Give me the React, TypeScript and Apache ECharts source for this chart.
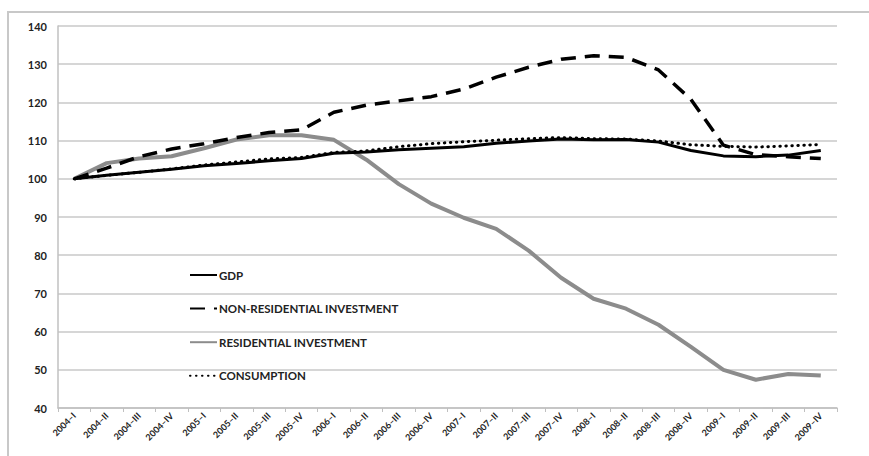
import React, { useEffect, useRef } from "react";
import * as echarts from "echarts";

const categories = [
  "2004–I", "2004–II", "2004–III", "2004–IV",
  "2005–I", "2005–II", "2005–III", "2005–IV",
  "2006–I", "2006–II", "2006–III", "2006–IV",
  "2007–I", "2007–II", "2007–III", "2007–IV",
  "2008–I", "2008–II", "2008–III", "2008–IV",
  "2009–I", "2009–II", "2009–III", "2009–IV",
];

const gdp = [100, 100.9, 101.7, 102.5, 103.4, 104.0, 104.7, 105.3, 106.7, 107.0, 107.6, 108.0, 108.4, 109.3, 109.9, 110.4, 110.2, 110.3, 109.6, 107.4, 106.0, 105.8, 106.2, 107.4];
const nonResidential = [100, 102.8, 105.8, 107.8, 109.2, 110.8, 112.1, 112.8, 117.4, 119.3, 120.4, 121.5, 123.5, 126.6, 129.2, 131.3, 132.2, 131.8, 128.5, 120.8, 108.8, 106.3, 105.8, 105.3];
const residential = [100, 104.1, 105.3, 105.9, 108.0, 110.3, 111.4, 111.4, 110.2, 105.0, 98.6, 93.5, 89.8, 86.9, 81.2, 74.1, 68.6, 66.0, 61.8, 56.0, 50.0, 47.4, 48.9, 48.5];
const consumption = [100, 100.9, 101.7, 102.6, 103.6, 104.4, 105.2, 105.6, 106.9, 107.3, 108.4, 109.2, 109.7, 110.1, 110.5, 110.8, 110.5, 110.4, 109.9, 108.9, 108.5, 108.3, 108.6, 109.0];

const legendNames = ["GDP", "NON-RESIDENTIAL INVESTMENT", "RESIDENTIAL INVESTMENT", "CONSUMPTION"];

const yMin = 40;
const yMax = 140;
const yInterval = 10;

const FONT = "Lato, 'Open Sans', sans-serif";

export default function App() {
  const ref = useRef<HTMLDivElement>(null);
  useEffect(() => {
    if (!ref.current) return;
    const chart = echarts.init(ref.current, null, { renderer: "svg" });
    chart.setOption({
      animation: false,
      backgroundColor: "#ffffff",
      textStyle: { fontFamily: FONT },
      graphic: [
        {
          type: "rect",
          shape: { x: 8, y: 12, width: 900, height: 500 },
          style: { fill: "none", stroke: "#c8c8c8", lineWidth: 2 },
          silent: true,
        },
      ],
      grid: { left: 58, right: 32, top: 26, bottom: 48, containLabel: false, outerBoundsMode: "none" },
      legend: {
        orient: "vertical",
        left: 189,
        top: 269,
        padding: 0,
        itemWidth: 27,
        itemHeight: 14,
        itemGap: 21.6,
        itemStyle: { opacity: 0 },
        textStyle: { fontFamily: FONT, fontWeight: "bold", fontSize: 11.5, color: "#222", padding: [0, 0, 0, -3] },
        data: legendNames,
      },
      xAxis: {
        type: "category",
        data: categories,
        boundaryGap: true,
        axisLine: { show: true, lineStyle: { color: "#c0c0c0", width: 1.5 } },
        axisTick: { show: true, length: 4, lineStyle: { color: "#c0c0c0" } },
        axisLabel: {
          interval: 0,
          rotate: 45,
          fontSize: 9,
          fontWeight: "bold",
          color: "#222",
          margin: 6,
          fontFamily: FONT,
        },
        splitLine: { show: false },
      },
      yAxis: {
        type: "value",
        min: yMin,
        max: yMax,
        interval: yInterval,
        axisLine: { show: true, lineStyle: { color: "#c0c0c0", width: 1.5 } },
        axisTick: { show: false },
        axisLabel: { fontSize: 11, fontWeight: "bold", color: "#222", margin: 11, fontFamily: FONT },
        splitLine: { show: true, lineStyle: { color: "#c8c8c8", width: 1.5 } },
      },
      series: [
        {
          name: "RESIDENTIAL INVESTMENT",
          type: "line",
          data: residential,
          symbol: "none",
          lineStyle: { color: "#8c8c8c", width: 4 },
          itemStyle: { color: "#8c8c8c" },
          z: 2,
        },
        {
          name: "GDP",
          type: "line",
          data: gdp,
          symbol: "none",
          lineStyle: { color: "#000", width: 3 },
          itemStyle: { color: "#000" },
          z: 3,
        },
        {
          name: "NON-RESIDENTIAL INVESTMENT",
          type: "line",
          data: nonResidential,
          symbol: "none",
          lineStyle: { color: "#000", width: 3.5, type: [15, 9] },
          itemStyle: { color: "#000" },
          z: 4,
        },
        {
          name: "CONSUMPTION",
          type: "line",
          data: consumption,
          symbol: "none",
          lineStyle: { color: "#000", width: 3, type: [0.5, 5.5], cap: "round" },
          itemStyle: { color: "#000" },
          z: 5,
        },
      ],
    });
    return () => chart.dispose();
  }, []);
  return (
    <div
      ref={ref}
      style={{ position: "fixed", left: 0, top: 0, width: 869, height: 456 }}
    />
  );
}
